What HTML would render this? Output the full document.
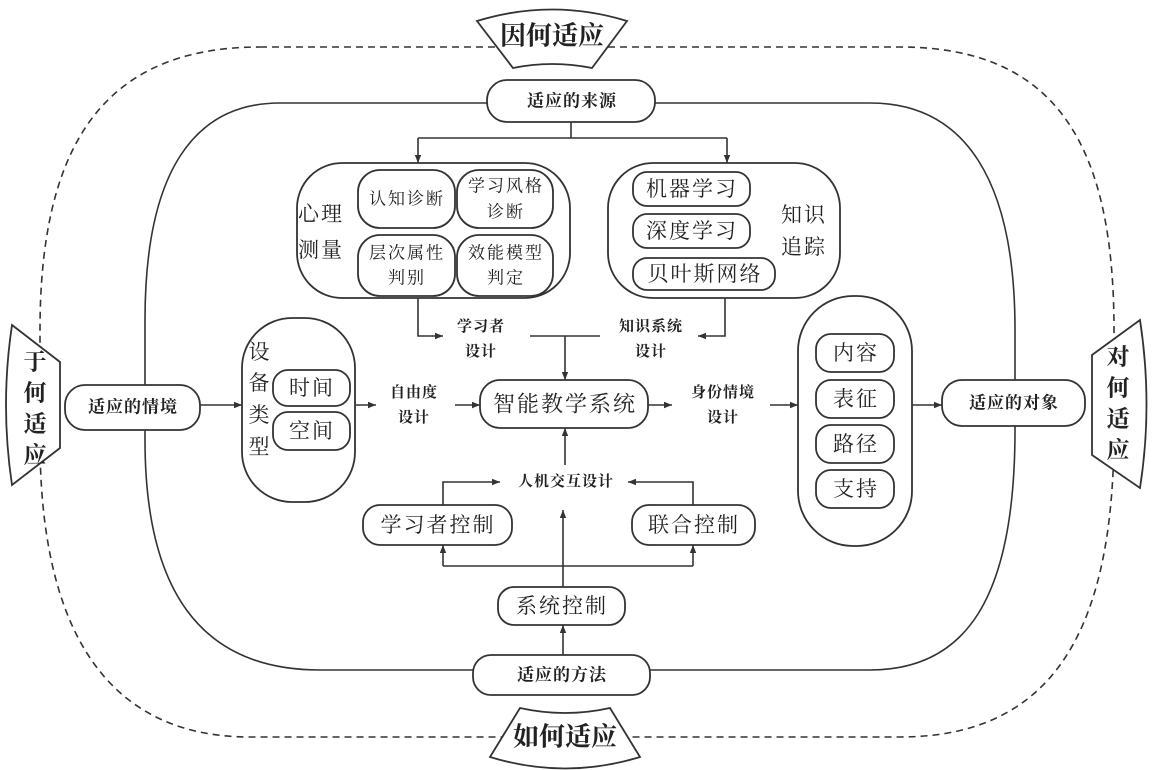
<!DOCTYPE html>
<html><head><meta charset="utf-8"><style>
html,body{margin:0;padding:0;background:#fff;}
svg{display:block;}
text{font-family:"Liberation Serif","Noto Serif CJK SC","Noto Sans CJK SC",serif;fill:#222;text-anchor:middle;dominant-baseline:central;}
.b{font-family:"Liberation Sans","Noto Sans CJK SC",sans-serif;font-weight:bold;letter-spacing:1px;}
.k{font-family:"Liberation Serif","Noto Serif CJK SC",serif;font-weight:bold;}
.s{letter-spacing:2px;}
</style></head><body>
<svg width="1153" height="770" viewBox="0 0 1153 770" xmlns="http://www.w3.org/2000/svg">
<defs><marker id="a" viewBox="0 0 10 10" refX="10" refY="5" markerWidth="8" markerHeight="8" markerUnits="userSpaceOnUse" orient="auto"><path d="M0,1 L10,5 L0,9 Z" fill="#333"/></marker></defs>
<g fill="none" stroke="#333" stroke-width="1.6">
<path d="M260 47 H900 C1060 47 1114 150 1114 330 V430 C1114 620 1060 737 900 737 H250 C100 737 40 620 40 440 V330 C40 150 100 47 260 47 Z" stroke-dasharray="7,5"/>
<path d="M280 103 H870 C965 103 1015 180 1015 330 V430 C1015 600 965 670 870 670 H320 C200 670 145 590 145 440 V320 C145 170 195 103 280 103 Z"/>
</g>
<g fill="#fff" stroke="#333" stroke-width="1.8">
<path d="M477 21 Q552 -2 627 21 L592 68 Q552 60 513 68 Z"/>
<path d="M490 757 Q565 780 640 757 L610 708 Q565 718 520 708 Z"/>
<path d="M12 325 L60 362 L60 448 L12 485 Q0 405 12 325 Z"/>
<path d="M1140 320 L1092 355 L1092 455 L1140 488 Q1153 405 1140 320 Z"/>
<rect x="487" y="80" width="168" height="42" rx="20"/>
<rect x="297" y="163" width="273" height="135" rx="45"/>
<rect x="358" y="170" width="97" height="58" rx="22"/>
<rect x="457" y="170" width="96" height="58" rx="22"/>
<rect x="358" y="235" width="97" height="61" rx="22"/>
<rect x="457" y="235" width="96" height="61" rx="22"/>
<rect x="608" y="163" width="232" height="135" rx="45"/>
<rect x="633" y="172" width="117" height="34" rx="14"/>
<rect x="633" y="214" width="117" height="34" rx="14"/>
<rect x="633" y="258" width="142" height="32" rx="14"/>
<rect x="480" y="380" width="168" height="48" rx="20"/>
<rect x="242" y="318" width="113" height="184" rx="50"/>
<rect x="273" y="370" width="77" height="36" rx="15"/>
<rect x="273" y="412" width="77" height="38" rx="15"/>
<rect x="65" y="385" width="135" height="45" rx="20"/>
<rect x="798" y="296" width="114" height="250" rx="55"/>
<rect x="816" y="334" width="78" height="38" rx="15"/>
<rect x="816" y="380" width="78" height="38" rx="15"/>
<rect x="816" y="425" width="78" height="38" rx="15"/>
<rect x="816" y="470" width="78" height="38" rx="15"/>
<rect x="942" y="380" width="143" height="46" rx="20"/>
<rect x="363" y="505" width="149" height="40" rx="17"/>
<rect x="632" y="505" width="123" height="40" rx="17"/>
<rect x="498" y="587" width="127" height="38" rx="16"/>
<rect x="473" y="655" width="177" height="40" rx="18"/>
</g>
<g fill="none" stroke="#333" stroke-width="1.6">
<path d="M571 122 V138"/><path d="M418 138 H727"/>
<path d="M418 138 V163" marker-end="url(#a)"/><path d="M727 138 V163" marker-end="url(#a)"/>
<path d="M418 298 V336 H443" marker-end="url(#a)"/>
<path d="M725 298 V336 H698" marker-end="url(#a)"/>
<path d="M530 336 H600"/><path d="M565 336 V380" marker-end="url(#a)"/>
<path d="M200 405 H242" marker-end="url(#a)"/>
<path d="M355 405 H376" marker-end="url(#a)"/>
<path d="M455 405 H480" marker-end="url(#a)"/>
<path d="M648 405 H672" marker-end="url(#a)"/>
<path d="M770 405 H798" marker-end="url(#a)"/>
<path d="M912 405 H942" marker-end="url(#a)"/>
<path d="M565 465 V428" marker-end="url(#a)"/>
<path d="M443 505 V482 H500" marker-end="url(#a)"/>
<path d="M693 505 V482 H628" marker-end="url(#a)"/>
<path d="M563 587 V510" marker-end="url(#a)"/>
<path d="M443 566 H693"/><path d="M443 566 V545" marker-end="url(#a)"/><path d="M693 566 V545" marker-end="url(#a)"/>
<path d="M563 655 V625" marker-end="url(#a)"/>
</g>
<text x="552" y="36" font-size="26" class="k">因何适应</text>
<text x="565" y="737" font-size="26" class="k">如何适应</text>
<g font-size="23" class="k"><text x="35" y="362">于</text><text x="35" y="393">何</text><text x="35" y="424">适</text><text x="35" y="455">应</text>
<text x="1118" y="357">对</text><text x="1118" y="388">何</text><text x="1118" y="419">适</text><text x="1118" y="450">应</text></g>
<g class="b" font-size="17">
<text x="572" y="101">适应的来源</text>
<text x="133" y="407">适应的情境</text>
<text x="1014" y="403">适应的对象</text>
<text x="562" y="675">适应的方法</text>
</g>
<g class="b" font-size="15">
<text x="481" y="327">学习者</text><text x="481" y="352">设计</text>
<text x="651" y="327">知识系统</text><text x="651" y="352">设计</text>
<text x="414" y="393">自由度</text><text x="414" y="418">设计</text>
<text x="723" y="393">身份情境</text><text x="723" y="418">设计</text>
<text x="566" y="482">人机交互设计</text>
</g>
<g font-size="17" class="s">
<text x="407" y="199">认知诊断</text>
<text x="506" y="186">学习风格</text><text x="506" y="212">诊断</text>
<text x="407" y="253">层次属性</text><text x="407" y="278">判别</text>
<text x="506" y="253">效能模型</text><text x="506" y="278">判定</text>
</g>
<g font-size="21" class="s">
<text x="321" y="214">心理</text><text x="321" y="250">测量</text>
<text x="804" y="215">知识</text><text x="804" y="247">追踪</text>
<text x="692" y="189">机器学习</text><text x="692" y="231">深度学习</text><text x="705" y="274">贝叶斯网络</text>
<text x="312" y="388">时间</text><text x="312" y="431">空间</text>
<text x="856" y="353">内容</text><text x="856" y="399">表征</text><text x="856" y="444">路径</text><text x="856" y="489">支持</text>
<text x="438" y="525">学习者控制</text><text x="694" y="525">联合控制</text>
<text x="562" y="606">系统控制</text>
</g>
<g font-size="21"><text x="259" y="352">设</text><text x="259" y="383">备</text><text x="259" y="415">类</text><text x="259" y="447">型</text></g>
<text x="565" y="404" font-size="22" class="s">智能教学系统</text>
</svg>
</body></html>
